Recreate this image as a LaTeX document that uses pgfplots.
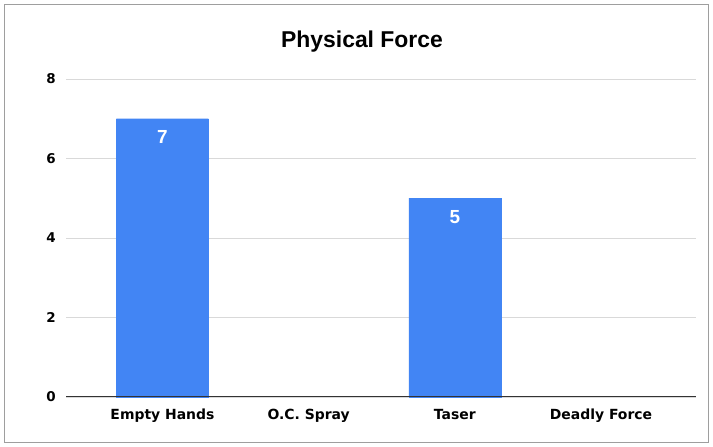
\documentclass[border=0pt]{standalone}
\usepackage{pgfplots}
\pgfplotsset{compat=1.18}
\usepackage{fontspec}
\setmainfont{Liberation Sans}
\newfontfamily\dejavu{DejaVu Sans}
\definecolor{barblue}{HTML}{4285F4}
\definecolor{gridgray}{HTML}{D9D9D9}
\definecolor{framegray}{HTML}{9E9E9E}
\begin{document}
\begin{tikzpicture}[x=1bp,y=1bp]
\fill[white] (0,0) rectangle (713,447);
\draw[framegray,line width=1.2bp] (4.5,4.5) rectangle (708.5,442.5);
\node[anchor=base,inner sep=0pt,font=\fontsize{23}{27}\selectfont\bfseries] at (362,399) {Physical Force};
\begin{axis}[
  at={(66bp,50bp)}, anchor=south west,
  scale only axis, width=630bp, height=318bp,
  xmin=-0.66, xmax=3.65, ymin=0, ymax=8,
  axis x line*=bottom, axis y line*=left,
  axis line style={draw=none},
  ytick={0,2,4,6,8},
  xtick={0,1,2,3},
  xticklabels={Empty Hands,O.C. Spray,Taser,Deadly Force},
  major tick length=0pt,
  ymajorgrids, grid style={gridgray,line width=0.8bp},
  /pgf/number format/assume math mode=true,
  yticklabel style={anchor=east, inner sep=0pt, xshift=-10bp, font=\dejavu\fontsize{13.5}{16}\selectfont\bfseries},
  xticklabel style={anchor=base, inner sep=0pt, yshift=-23bp, font=\dejavu\fontsize{14}{16}\selectfont\bfseries},
  ybar, bar width=92bp,
  nodes near coords,
  every node near coord/.append style={anchor=base, inner sep=0pt, yshift=-25bp, text=white, font=\fontsize{19}{22}\selectfont\bfseries},
  clip=false,
]
\addplot[fill=barblue, draw=barblue] coordinates {(0,7) (2,5)};
\draw[black!80,line width=1bp] (axis cs:-0.66,0) -- (axis cs:3.65,0);
\end{axis}
\end{tikzpicture}
\end{document}
